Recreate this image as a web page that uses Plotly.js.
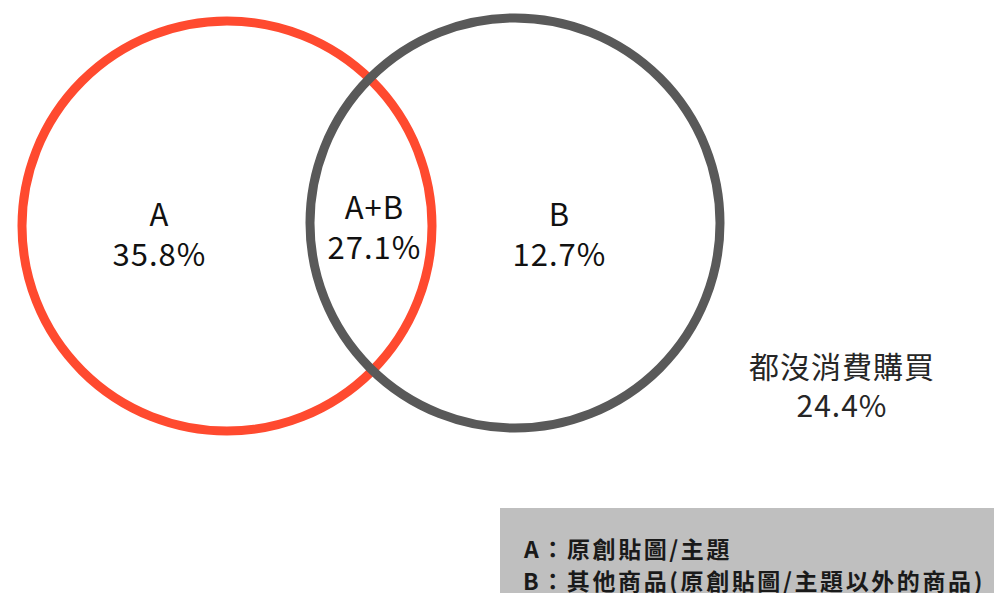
<!DOCTYPE html>
<html>
<head>
<meta charset="utf-8">
<script src="https://cdn.plot.ly/plotly-3.0.1.min.js"></script>
<style>html,body{margin:0;padding:0;background:#fff;}#chart{width:994px;height:593px;}</style>
</head>
<body>
<div id="chart"></div>
<script>
// Data
const setNames = ["A", "B"];
const regionLabels = ["A", "A+B", "B", "都沒消費購買"];
const regionValues = [35.8, 27.1, 12.7, 24.4];
const legendLines = ["A：原創貼圖/主題", "B：其他商品(原創貼圖/主題以外的商品)"];

// Layout (pixel-like data coordinates)
const circles = [
  {cx: 227, cy: 226, r: 205, color: "#FF4A2F"},
  {cx: 515, cy: 223, r: 205, color: "#595959"}
];
const labelPos = [
  {x: 159, y: 232, size: 31, spacing: 1},
  {x: 374, y: 225, size: 31, spacing: 1},
  {x: 559, y: 232, size: 31, spacing: 1},
  {x: 842, y: 384, size: 30, spacing: 1}
];
const font = "'Noto Sans CJK TC', 'Noto Sans', sans-serif";

const shapes = [];
// legend box
shapes.push({type: "rect", xref: "x", yref: "y", x0: 500, x1: 994, y0: 508, y1: 593,
  fillcolor: "#BFBFBF", line: {width: 0}, layer: "below"});
circles.forEach(c => shapes.push({
  type: "circle", xref: "x", yref: "y",
  x0: c.cx - c.r, x1: c.cx + c.r, y0: c.cy - c.r, y1: c.cy + c.r,
  line: {color: c.color, width: 9}, fillcolor: "rgba(0,0,0,0)", layer: "above"
}));

const spacings = [];
const annotations = regionLabels.map((lab, i) => {
  spacings.push(labelPos[i].spacing);
  return {
    x: labelPos[i].x, y: labelPos[i].y, xref: "x", yref: "y",
    text: lab + "<br>" + regionValues[i].toFixed(1) + "%",
    showarrow: false, xanchor: "center", yanchor: "middle", align: "center",
    font: {family: font, size: labelPos[i].size, color: i === 3 ? "#262626" : "#111111"}
  };
});
legendLines.forEach((t, i) => {
  spacings.push(2.6);
  annotations.push({
    x: 521, y: 548 + i * 32, xref: "x", yref: "y", text: "<b>" + t + "</b>",
    showarrow: false, xanchor: "left", yanchor: "middle", align: "left",
    font: {family: font, size: 23, color: "#1a1a1a"}
  });
});

Plotly.newPlot("chart", [{x: [0], y: [0], mode: "markers", marker: {opacity: 0}, hoverinfo: "skip", showlegend: false}], {
  width: 994, height: 593,
  margin: {l: 0, r: 0, t: 0, b: 0},
  paper_bgcolor: "#fff", plot_bgcolor: "#fff",
  xaxis: {range: [0, 994], visible: false, fixedrange: true},
  yaxis: {range: [593, 0], visible: false, fixedrange: true},
  shapes: shapes, annotations: annotations, showlegend: false
}, {displayModeBar: false, staticPlot: true}).then(gd => {
  const texts = gd.querySelectorAll(".annotation .annotation-text");
  texts.forEach((el, i) => {
    if (spacings[i] !== undefined) el.style.letterSpacing = spacings[i] + "px";
  });
});
</script>
</body>
</html>
